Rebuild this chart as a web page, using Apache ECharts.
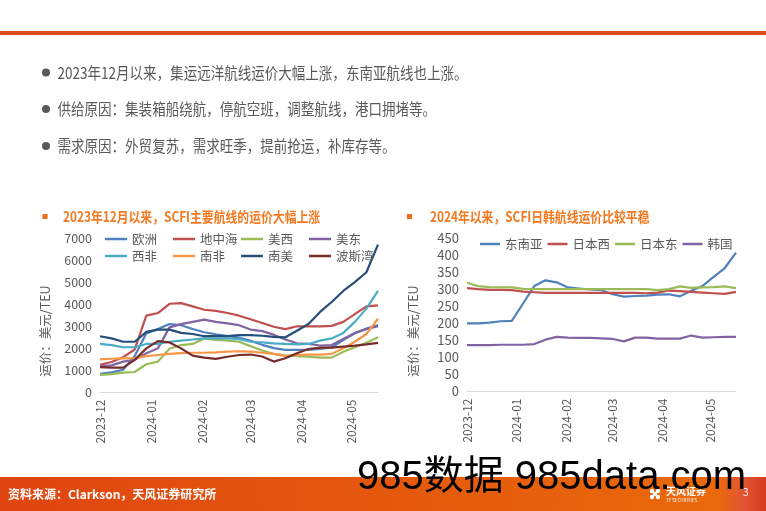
<!DOCTYPE html>
<html><head><meta charset="utf-8">
<script src="https://cdn.jsdelivr.net/npm/echarts@6/dist/echarts.min.js"></script>
<style>html,body{margin:0;padding:0;background:#fff}#c{width:766px;height:511px}</style>
</head><body><div id="c"></div>
<script>
// ---- data ----
const dates = ['2023-12-01','2023-12-08','2023-12-15','2023-12-22','2023-12-29',
  '2024-01-05','2024-01-12','2024-01-19','2024-01-26','2024-02-02','2024-02-09','2024-02-16','2024-02-23',
  '2024-03-01','2024-03-08','2024-03-15','2024-03-22','2024-03-29','2024-04-05','2024-04-12','2024-04-19','2024-04-26',
  '2024-05-03','2024-05-10','2024-05-17'];

const leftNames = ['欧洲','地中海','美西','美东','西非','南非','南美','波斯湾'];
const europe   = [850, 910, 1030, 1650, 2680, 2880, 3100, 3050, 2880, 2730, 2640, 2560, 2490, 2340, 2160, 2010, 1930, 1930, 1930, 1980, 2040, 2380, 2680, 2900, 3050];
const med      = [1250, 1380, 1600, 1950, 3480, 3600, 4020, 4050, 3900, 3750, 3700, 3600, 3480, 3320, 3150, 2980, 2870, 3000, 3000, 3000, 3020, 3200, 3550, 3900, 3950];
const usWest   = [800, 830, 900, 930, 1280, 1400, 1980, 2150, 2200, 2450, 2380, 2350, 2300, 2100, 1900, 1750, 1680, 1650, 1620, 1580, 1580, 1850, 2050, 2250, 2500];
const usEast   = [1180, 1230, 1400, 1480, 1780, 2000, 2950, 3100, 3200, 3300, 3200, 3130, 3050, 2850, 2780, 2620, 2400, 2230, 2200, 2130, 2150, 2430, 2700, 2870, 3000];
const westAfr  = [2200, 2150, 2050, 2050, 2200, 2200, 2300, 2350, 2400, 2450, 2450, 2450, 2420, 2300, 2270, 2230, 2200, 2180, 2200, 2350, 2450, 2700, 3200, 3800, 4600];
const southAfr = [1500, 1530, 1550, 1560, 1650, 1700, 1750, 1780, 1800, 1800, 1820, 1850, 1870, 1850, 1800, 1750, 1650, 1700, 1720, 1720, 1750, 2000, 2300, 2650, 3350];
const southAm  = [2550, 2450, 2300, 2300, 2750, 2850, 2850, 2700, 2650, 2550, 2550, 2550, 2600, 2600, 2570, 2520, 2500, 2800, 3100, 3650, 4100, 4600, 5000, 5450, 6700];
const persian  = [1150, 1130, 1130, 1480, 2000, 2330, 2270, 2000, 1670, 1580, 1520, 1620, 1700, 1720, 1630, 1400, 1550, 1780, 1970, 2030, 2030, 2080, 2120, 2180, 2250];

const rightNames = ['东南亚','日本西','日本东','韩国'];
const seAsia   = [200, 200, 202, 206, 207, 258, 309, 326, 320, 305, 302, 299, 297, 285, 278, 280, 281, 284, 285, 279, 295, 309, 336, 362, 407];
const japanW   = [303, 300, 298, 298, 297, 293, 291, 289, 289, 289, 289, 289, 289, 289, 289, 289, 288, 290, 296, 294, 292, 290, 288, 286, 292];
const japanE   = [319, 309, 306, 305, 305, 301, 300, 300, 300, 300, 300, 300, 300, 300, 300, 300, 300, 297, 300, 308, 304, 305, 306, 308, 303];
const korea    = [136, 136, 136, 137, 137, 137, 139, 152, 160, 158, 157, 157, 156, 154, 147, 158, 158, 155, 155, 155, 164, 158, 159, 160, 160];

const leftTicks = {min: 0, max: 7000, interval: 1000};
const rightTicks = {min: 0, max: 450, interval: 50};

const bullets = ['2023年12月以来，集运远洋航线运价大幅上涨，东南亚航线也上涨。',
  '供给原因：集装箱船绕航，停航空班，调整航线，港口拥堵等。',
  '需求原因：外贸复苏，需求旺季，提前抢运，补库存等。'];
const leftTitle = '2023年12月以来，SCFI主要航线的运价大幅上涨';
const rightTitle = '2024年以来，SCFI日韩航线运价比较平稳';
const yName = '运价：美元/TEU';
const source = '资料来源：Clarkson，天风证券研究所';

// ---- chart ----
const FONT = '"Noto Sans CJK SC", "Liberation Sans", sans-serif';
const leftColors = ['#4F81BD','#C0504D','#9BBB59','#8064A2','#4BACC6','#F79646','#264E7A','#772C2A'];
const rightColors = ['#4F81BD','#C0504D','#9BBB59','#8064A2'];
const leftData = [europe, med, usWest, usEast, westAfr, southAfr, southAm, persian];
const rightData = [seAsia, japanW, japanE, korea];
const pairs = vals => dates.map((d, i) => [d, vals[i]]);

const tMin = new Date(2023, 11, 1).getTime();
const tMax = new Date(2024, 4, 17).getTime();
function monthFmt(v) {
  const d = new Date(v);
  if (d.getDate() !== 1) return '';
  return d.getFullYear() + '-' + String(d.getMonth() + 1).padStart(2, '0');
}
function xAxis(gi) {
  return {
    type: 'time', gridIndex: gi, min: tMin, max: tMax,
    minInterval: 28 * 864e5, maxInterval: 31 * 864e5,
    axisLine: {lineStyle: {color: '#D9D9D9', width: 1}},
    axisTick: {show: false}, splitLine: {show: false},
    axisLabel: {rotate: 90, color: '#595959', fontSize: 12, margin: 7, fontFamily: FONT, formatter: monthFmt}
  };
}
function yAxis(gi, t, fs) {
  return {
    type: 'value', gridIndex: gi, min: t.min, max: t.max, interval: t.interval,
    axisLine: {show: false}, axisTick: {show: false}, splitLine: {show: false},
    axisLabel: {color: '#595959', fontSize: fs, margin: 8, fontFamily: FONT, formatter: v => String(v)}
  };
}
const series = [];
leftNames.forEach((n, i) => series.push({
  name: n, type: 'line', xAxisIndex: 0, yAxisIndex: 0, symbol: 'none',
  lineStyle: {width: 2.2, color: leftColors[i]}, itemStyle: {color: leftColors[i]},
  data: pairs(leftData[i])
}));
rightNames.forEach((n, i) => series.push({
  name: n, type: 'line', xAxisIndex: 1, yAxisIndex: 1, symbol: 'none',
  lineStyle: {width: 2.2, color: rightColors[i]}, itemStyle: {color: rightColors[i]},
  data: pairs(rightData[i])
}));

function txt(x, y, text, fs, color, opts) {
  opts = opts || {};
  return {
    type: 'text', x: x, y: y, scaleX: opts.sx || 1, rotation: opts.rot || 0, z: opts.z || 10,
    style: {text: text, fontSize: fs, fontFamily: opts.ff || FONT, fontWeight: opts.fw || 'normal',
      fill: color, align: opts.align || 'left', verticalAlign: 'middle'}
  };
}

const graphic = [
  {type: 'rect', shape: {x: 0, y: 31, width: 766, height: 4}, style: {fill: '#D9501E'}},
];
[72.5, 109, 146].forEach((y, i) => {
  graphic.push({type: 'circle', shape: {cx: 46, cy: y, r: 4}, style: {fill: '#595959'}});
  graphic.push(txt(57.5, y, bullets[i], 16, '#595959', {sx: 0.845}));
});
graphic.push({type: 'rect', shape: {x: 42.5, y: 214, width: 5, height: 5}, style: {fill: '#F26B1D'}});
graphic.push({type: 'rect', shape: {x: 407, y: 214, width: 5, height: 5}, style: {fill: '#F26B1D'}});
graphic.push(txt(63, 216.5, leftTitle, 14, '#F47920', {sx: 0.845, fw: 'bold'}));
graphic.push(txt(430, 216.5, rightTitle, 14, '#F47920', {sx: 0.845, fw: 'bold'}));
graphic.push(txt(45, 331, yName, 12.5, '#595959', {rot: Math.PI / 2, align: 'center'}));
graphic.push(txt(413, 331, yName, 12.5, '#595959', {rot: Math.PI / 2, align: 'center'}));
// footer
graphic.push({type: 'rect', shape: {x: 0, y: 477, width: 766, height: 34},
  style: {fill: new echarts.graphic.LinearGradient(0, 0, 1, 0, [{offset: 0, color: '#DF4510'}, {offset: 1, color: '#EA6C0B'}])}});
graphic.push({type: 'rect', shape: {x: 718, y: 477, width: 48, height: 34},
  style: {fill: new echarts.graphic.LinearGradient(0, 0, 1, 0, [{offset: 0, color: '#E9690E'}, {offset: 0.5, color: '#E25532'}, {offset: 1, color: '#D63A1E'}])}});
graphic.push(txt(8, 494, source, 12, '#FFFFFF', {fw: 'bold'}));
[[652, 491], [658, 491], [652, 497], [658, 497], [655, 494]].forEach(p => {
  graphic.push({type: 'circle', shape: {cx: p[0], cy: p[1], r: 2.2}, style: {fill: '#FFFFFF'}});
});
graphic.push(txt(666, 491, '天风证券', 10, '#FFFFFF', {fw: 'bold'}));
graphic.push(txt(666, 500, 'TF SECURITIES', 4.5, '#FFFFFF'));
graphic.push(txt(743, 492, '3', 10, '#FFFFFF'));
// watermark
graphic.push(txt(357, 478, '985数据 985data.com', 40, '#000000', {ff: '"Liberation Sans", "Noto Sans CJK SC", sans-serif', z: 100}));

const option = {
  animation: false,
  backgroundColor: '#FFFFFF',
  textStyle: {fontFamily: FONT},
  grid: [
    {left: 100, right: 388, top: 238, bottom: 118.5, containLabel: false},
    {left: 467, right: 30, top: 238, bottom: 119.5, containLabel: false}
  ],
  xAxis: [xAxis(0), xAxis(1)],
  yAxis: [yAxis(0, leftTicks, 12.5), yAxis(1, rightTicks, 13)],
  legend: [
    {data: leftNames, left: 105, top: 232, width: 275, padding: 0, icon: 'rect', itemWidth: 22, itemHeight: 2.5, itemGap: 3,
     textStyle: {color: '#595959', fontSize: 12.5, width: 38, lineHeight: 14, height: 14, fontFamily: FONT}},
    {data: rightNames, left: 480, top: 237, padding: 0, icon: 'rect', itemWidth: 20, itemHeight: 2.5, itemGap: 5,
     textStyle: {color: '#595959', fontSize: 12.5, width: 36, lineHeight: 14, height: 14, fontFamily: FONT}}
  ],
  series: series,
  graphic: graphic
};
const chart = echarts.init(document.getElementById('c'), null, {renderer: 'canvas'});
chart.setOption(option);
</script></body></html>
